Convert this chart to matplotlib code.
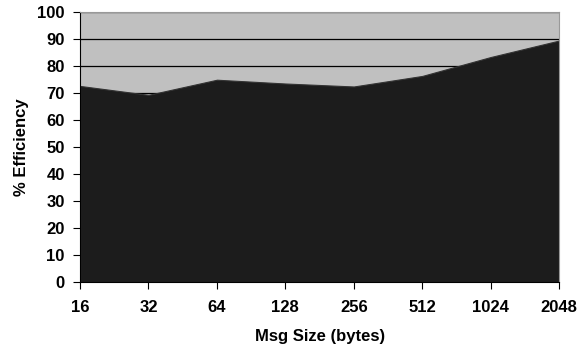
import matplotlib
matplotlib.use("Agg")
import matplotlib.pyplot as plt

msg_sizes = ["16", "32", "64", "128", "256", "512", "1024", "2048"]
efficiency = [72.6, 69.3, 74.9, 73.5, 72.4, 76.3, 83.3, 89.4]

plt.rcParams['font.family'] = ['Liberation Sans', 'DejaVu Sans']
plt.rcParams['font.weight'] = 'bold'

fig = plt.figure(figsize=(5.8, 3.5), dpi=100)
ax = fig.add_axes([0.138, 0.194, 0.826, 0.772])

x = range(len(msg_sizes))
ax.set_facecolor('#c0c0c0')
ax.yaxis.grid(True, color='black', linewidth=0.9, zorder=1)
ax.set_axisbelow(True)
ax.fill_between(x, 0, efficiency, color='#1c1c1c', linewidth=0.8, edgecolor='#333333', zorder=2)

ax.set_xlim(0, len(msg_sizes) - 1)
ax.set_ylim(0, 100)
ax.set_yticks(range(0, 101, 10))
ax.set_xticks(list(x))
ax.set_xticklabels(msg_sizes)
ax.tick_params(axis='both', labelsize=12, length=5, width=0.8, colors='black')
ax.tick_params(axis='x', pad=8)
ax.tick_params(axis='y', pad=6)

ax.spines['top'].set_color('#999999')
ax.spines['right'].set_color('#999999')
ax.spines['left'].set_color('black')
ax.spines['bottom'].set_color('black')

ax.set_xlabel('Msg Size (bytes)', fontsize=12, fontweight='bold', labelpad=10)
ax.set_ylabel('% Efficiency', fontsize=12, fontweight='bold', labelpad=6)

fig.savefig('out.png', dpi=100)
